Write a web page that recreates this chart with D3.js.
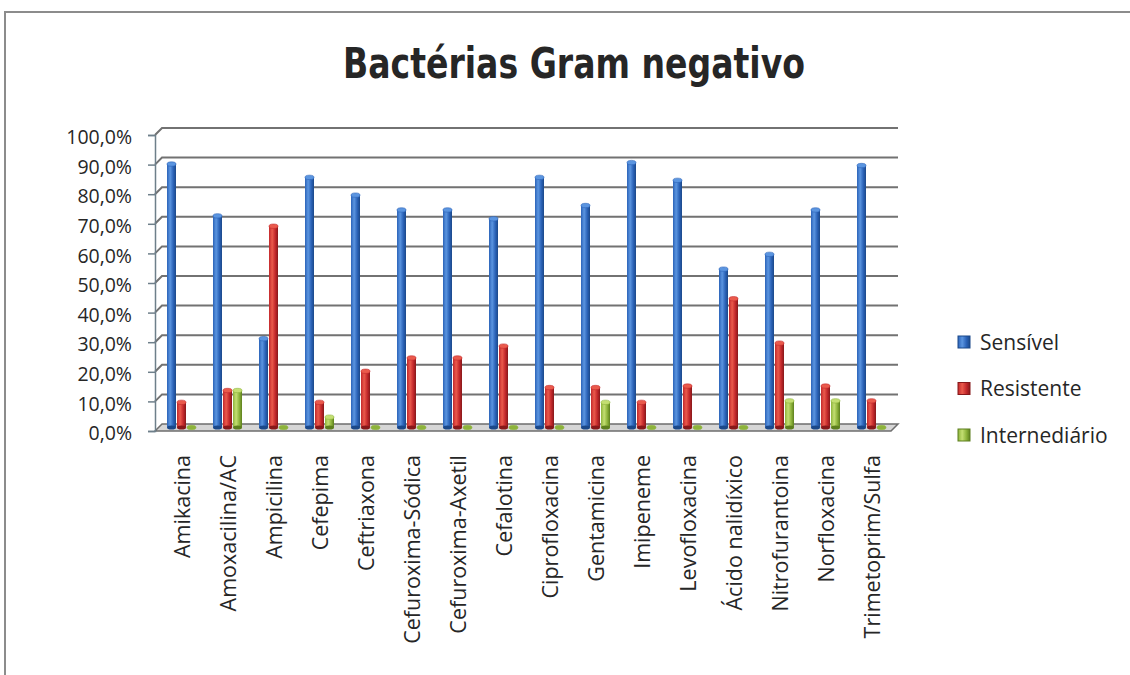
<!DOCTYPE html>
<html>
<head>
<meta charset="utf-8">
<script src="https://cdn.jsdelivr.net/npm/d3@7"></script>
<style>
  body { margin: 0; background: #fff; }
  text { font-family: "Open Sans", "DejaVu Sans", sans-serif; fill: #262626; }
</style>
</head>
<body>
<script>
//////////////// Daten ////////////////////
var antibioticos = ["Amikacina", "Amoxacilina/AC", "Ampicilina", "Cefepima", "Ceftriaxona",
  "Cefuroxima-Sódica", "Cefuroxima-Axetil", "Cefalotina", "Ciprofloxacina", "Gentamicina",
  "Imipeneme", "Levofloxacina", "Ácido nalidíxico", "Nitrofurantoina", "Norfloxacina", "Trimetoprim/Sulfa"];
var series = ["Sensível", "Resistente", "Internediário"];
var sensivel      = [89, 71.5, 30, 84.5, 78.5, 73.5, 73.5, 70.5, 84.5, 75, 89.5, 83.5, 53.5, 58.5, 73.5, 88.5];
var resistente    = [8.5, 12.5, 68, 8.5, 19, 23.5, 23.5, 27.5, 13.5, 13.5, 8.5, 14, 43.5, 28.5, 14, 9];
var intermediario = [0, 12.5, 0, 3.5, 0, 0, 0, 0, 0, 8.5, 0, 0, 0, 9, 9, 0];
var yTicks = [0, 10, 20, 30, 40, 50, 60, 70, 80, 90, 100];

var valores = [sensivel, resistente, intermediario];
var cores = [
  {dark: "#1b4889", mid: "#2b63b8", light: "#5b95e0"},
  {dark: "#86181a", mid: "#c3282b", light: "#ea5a4c"},
  {dark: "#5d7f1e", mid: "#8db33b", light: "#c3de72"}
];

//////////////// Variablen ////////////////////
var width = 1130, height = 675;
var depth = {dx: 7, dy: -7};
var plot = {left: 155, right: 891, top: 135, bottom: 431};

var svg = d3.select("body")
  .append("svg")
  .attr("width", width)
  .attr("height", height);

// Rahmen
svg.append("rect")
  .attr("x", 5).attr("y", 12)
  .attr("width", width + 10).attr("height", height + 10)
  .attr("fill", "#fff")
  .attr("stroke", "#8c8c8c")
  .attr("stroke-width", 2);

////////////////// Scaling ////////////
var yFront = d3.scaleLinear().domain([0, 100]).range([plot.bottom, plot.top]);
var yBack = d3.scaleLinear().domain([0, 100]).range([plot.bottom + depth.dy, plot.top + depth.dy]);
var yMid = d3.scaleLinear().domain([0, 100]).range([plot.bottom + depth.dy / 2, plot.top + depth.dy / 2]);

var x0 = d3.scaleBand()
  .domain(antibioticos)
  .range([plot.left, plot.right]);
var x1 = d3.scaleBand()
  .domain(series)
  .range([13, 43]);

//////////////// Gradienten ////////////////////
var defs = svg.append("defs");
cores.forEach(function(c, i){
  var g = defs.append("linearGradient")
    .attr("id", "cyl" + i)
    .attr("x1", "0%").attr("x2", "100%");
  g.append("stop").attr("offset", "0%").attr("stop-color", c.mid);
  g.append("stop").attr("offset", "35%").attr("stop-color", c.light);
  g.append("stop").attr("offset", "70%").attr("stop-color", c.mid);
  g.append("stop").attr("offset", "100%").attr("stop-color", c.dark);
});

//////////////// Boden ////////////////////
svg.append("path")
  .attr("d", "M" + [plot.left, yFront(0)] + "L" + [plot.left + depth.dx, yBack(0)] +
    "L" + [plot.right + depth.dx, yBack(0)] + "L" + [plot.right, yFront(0)] + "Z")
  .attr("fill", "#d6d6d6")
  .attr("stroke", "#6e6e6e")
  .attr("stroke-width", 1.5);

//////////////// Gitterlinien ////////////////////
svg.selectAll("path.grid")
  .data(yTicks.filter(function(d){ return d > 0; }))
  .enter()
  .append("path")
  .attr("class", "grid")
  .attr("d", function(d){
    return "M" + [plot.left, yFront(d)] + "L" + [plot.left + depth.dx, yBack(d)] +
      "L" + [plot.right + depth.dx, yBack(d)];
  })
  .attr("fill", "none")
  .attr("stroke", "#727272")
  .attr("stroke-width", 2);

//////////////// Achsen ////////////////////
var fmt = d3.formatLocale({decimal: ",", thousands: ".", grouping: [3], currency: ["", ""]}).format(".1f");

var yAxis = d3.axisLeft(yFront)
  .tickValues(yTicks)
  .tickSize(7)
  .tickPadding(16)
  .tickFormat(function(d){ return fmt(d) + "%"; });

var yAchse = svg.append("g")
  .attr("class", "y axis")
  .attr("transform", "translate(" + plot.left + ",0)")
  .call(yAxis);
yAchse.select(".domain").attr("stroke", "#6e7f8a").attr("stroke-width", 1.5);
yAchse.selectAll(".tick line").attr("stroke", "#6e7f8a").attr("stroke-width", 1.5);
yAchse.selectAll(".tick text")
  .attr("dy", "0.45em")
  .style("font-size", "19.5px")
  .style("font-family", "'Open Sans', sans-serif")
  .attr("fill", "#262626");

//////////////// Zylinder ////////////////////
var grupos = svg.selectAll("g.cat")
  .data(antibioticos)
  .enter()
  .append("g")
  .attr("class", "cat")
  .attr("transform", function(d){ return "translate(" + (x0(d) + depth.dx / 2) + ",0)"; });

grupos.each(function(cat, ci){
  var g = d3.select(this);
  var bw = x1.bandwidth() - 1;
  series.forEach(function(s, si){
    var v = valores[si][ci];
    var cx = x1(s) + x1.bandwidth() / 2 - 5;
    if (v > 0) {
      g.append("rect")
        .attr("x", cx - bw / 2)
        .attr("y", yMid(v))
        .attr("width", bw)
        .attr("height", yMid(0) - yMid(v))
        .attr("fill", "url(#cyl" + si + ")");
      g.append("ellipse")
        .attr("cx", cx).attr("cy", yMid(0))
        .attr("rx", bw / 2).attr("ry", 2)
        .attr("fill", cores[si].dark);
    }
    g.append("ellipse")
      .attr("cx", cx).attr("cy", yMid(v))
      .attr("rx", bw / 2).attr("ry", 2.2)
      .attr("fill", v > 0 ? cores[si].light : cores[si].mid)
      .attr("stroke", cores[si].mid)
      .attr("stroke-width", 0.6);
  });
});

//////////////// Kategorien ////////////////////
svg.selectAll("text.cat")
  .data(antibioticos)
  .enter()
  .append("text")
  .attr("class", "cat")
  .attr("transform", function(d){
    return "translate(" + (x0(d) + x0.bandwidth() / 2 + 4) + ",455) rotate(-90)";
  })
  .attr("dy", "0.35em")
  .attr("text-anchor", "end")
  .style("font-size", "21.5px")
  .text(function(d){ return d; });

//////////////// Titel ////////////////////
svg.append("text")
  .attr("x", 574)
  .attr("y", 78)
  .attr("text-anchor", "middle")
  .attr("textLength", 462)
  .attr("lengthAdjust", "spacingAndGlyphs")
  .style("font-family", "'Liberation Sans Narrow', 'DejaVu Sans Condensed', 'Open Sans', sans-serif")
  .style("font-weight", "bold")
  .style("font-size", "43px")
  .attr("fill", "#000")
  .text("Bactérias Gram negativo");

//////////////// Legende ////////////////////
var legende = svg.selectAll("g.leg")
  .data(series)
  .enter()
  .append("g")
  .attr("class", "leg")
  .attr("transform", function(d, i){ return "translate(958," + (342 + i * 46.5) + ")"; });

legende.append("rect")
  .attr("x", 0).attr("y", -6)
  .attr("width", 12).attr("height", 12)
  .attr("fill", function(d, i){ return "url(#cyl" + i + ")"; })
  .attr("stroke", function(d, i){ return cores[i].dark; })
  .attr("stroke-width", 1);

legende.append("text")
  .attr("x", 22)
  .attr("dy", "0.36em")
  .style("font-size", "21px")
  .text(function(d){ return d; });
</script>
</body>
</html>
